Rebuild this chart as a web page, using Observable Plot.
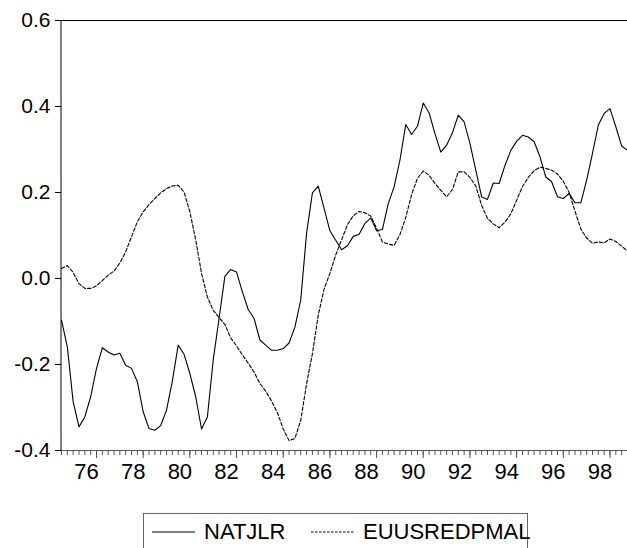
<!DOCTYPE html>
<html><head><meta charset="utf-8">
<script src="https://cdn.jsdelivr.net/npm/d3@7"></script>
<script src="https://cdn.jsdelivr.net/npm/@observablehq/plot@0.6"></script>
<style>
html,body{margin:0;padding:0;background:#fff;overflow:hidden;font-family:"Liberation Sans",Arial,sans-serif;}
#chart{position:absolute;left:0;top:0;}
#legend{position:absolute;left:143px;top:513px;width:385px;height:50px;border:1px solid #666;box-sizing:border-box;font-size:22px;color:#000;}
#legend .item{position:absolute;top:5px;display:flex;align-items:center;white-space:nowrap;}
#legend svg{margin-right:9px;}
</style></head><body>
<div id="chart"></div>
<div id="legend"></div>
<script>
// Quarterly observations starting 1974Q3
const startYear = 1974;
const startQuarter = 3;
const seriesNames = ["NATJLR", "EUUSREDPMAL"];
const natjlr = [
 -0.097,-0.159,-0.287,-0.345,-0.322,-0.275,-0.209,-0.161,-0.171,-0.178,
 -0.174,-0.202,-0.209,-0.240,-0.310,-0.349,-0.353,-0.342,-0.306,-0.238,
 -0.155,-0.176,-0.221,-0.275,-0.350,-0.322,-0.190,-0.093,0.005,0.021,
 0.015,-0.031,-0.072,-0.093,-0.143,-0.155,-0.167,-0.167,-0.163,-0.150,
 -0.113,-0.050,0.105,0.199,0.215,0.163,0.111,0.089,0.067,0.076,
 0.098,0.103,0.128,0.141,0.111,0.114,0.174,0.213,0.275,0.358,
 0.335,0.354,0.408,0.385,0.337,0.294,0.310,0.339,0.380,0.364,
 0.314,0.252,0.190,0.184,0.222,0.221,0.263,0.298,0.319,0.333,
 0.329,0.318,0.283,0.236,0.225,0.190,0.186,0.198,0.176,0.176,
 0.229,0.291,0.357,0.384,0.395,0.353,0.308,0.298
];
const euusredpmal = [
 0.023,0.030,0.014,-0.012,-0.023,-0.023,-0.017,-0.005,0.008,0.017,
 0.036,0.062,0.097,0.132,0.155,0.172,0.186,0.199,0.209,0.215,
 0.217,0.201,0.155,0.090,0.012,-0.043,-0.074,-0.091,-0.107,-0.138,
 -0.157,-0.178,-0.197,-0.218,-0.244,-0.262,-0.285,-0.312,-0.350,-0.377,
 -0.372,-0.330,-0.245,-0.175,-0.085,-0.025,0.012,0.055,0.090,0.125,
 0.146,0.156,0.153,0.145,0.117,0.085,0.080,0.077,0.102,0.142,
 0.195,0.233,0.250,0.240,0.221,0.205,0.190,0.207,0.248,0.248,
 0.235,0.215,0.170,0.140,0.127,0.118,0.131,0.150,0.182,0.214,
 0.235,0.251,0.259,0.256,0.252,0.243,0.226,0.200,0.157,0.115,
 0.094,0.082,0.085,0.083,0.092,0.086,0.075,0.064
];
const yTicks = [-0.4, -0.2, 0.0, 0.2, 0.4, 0.6];
const yTickLabels = ["-0.4", "-0.2", "0.0", "0.2", "0.4", "0.6"];
const xTickYears = [1976, 1978, 1980, 1982, 1984, 1986, 1988, 1990, 1992, 1994, 1996, 1998];
const xTickLabels = ["76", "78", "80", "82", "84", "86", "88", "90", "92", "94", "96", "98"];

const t0 = startYear + (startQuarter - 1) / 4;
const rows = [];
natjlr.forEach((v, i) => rows.push({t: t0 + i / 4, v, s: seriesNames[0]}));
euusredpmal.forEach((v, i) => rows.push({t: t0 + i / 4, v, s: seriesNames[1]}));
const tEnd = t0 + (natjlr.length - 1) / 4;
const quarterTicks = natjlr.map((_, i) => t0 + i / 4);

const font = '"Liberation Sans", Arial, sans-serif';
const chart = Plot.plot({
  width: 627,
  height: 490,
  marginLeft: 61,
  marginRight: 0,
  marginTop: 20,
  marginBottom: 40,
  style: {fontFamily: font, background: "#fff", color: "#000", overflow: "visible"},
  x: {type: "linear", domain: [t0, tEnd], label: null},
  y: {domain: [-0.4, 0.6], label: null},
  marks: [
    Plot.axisX(quarterTicks, {tickSize: 5, tickFormat: () => "", stroke: "#555", label: null}),
    Plot.axisX(xTickYears, {tickSize: 8, tickFormat: () => "", stroke: "#555", label: null}),
    Plot.axisX(xTickYears, {tickSize: 0, tickPadding: 13, dx: -10, fontSize: 22, label: null,
      tickFormat: d => xTickLabels[xTickYears.indexOf(d)]}),
    Plot.axisY(yTicks, {tickSize: 6, tickPadding: 5, fontSize: 21, label: null,
      tickFormat: d => yTickLabels[yTicks.indexOf(d)]}),
    Plot.ruleY([-0.4], {stroke: "#555"}),
    Plot.ruleY([0.6], {stroke: "#000"}),
    Plot.ruleX([t0], {stroke: "#000", dx: -0.5}),
    Plot.line(rows.filter(d => d.s === seriesNames[0]), {x: "t", y: "v", stroke: "#000", strokeWidth: 1.1}),
    Plot.line(rows.filter(d => d.s === seriesNames[1]), {x: "t", y: "v", stroke: "#000", strokeWidth: 1.1, strokeDasharray: "3.5,2"})
  ]
});
document.getElementById("chart").appendChild(chart);

// legend
const lg = document.getElementById("legend");
const items = [
  {name: seriesNames[0], dash: null, left: 8},
  {name: seriesNames[1], dash: "2.5,1.5", left: 167}
];
items.forEach(it => {
  const div = document.createElement("div");
  div.className = "item";
  div.style.left = it.left + "px";
  div.innerHTML = `<svg width="43" height="10"><line x1="0" x2="43" y1="5" y2="5" stroke="#000" stroke-width="1" ${it.dash ? `stroke-dasharray="${it.dash}"` : ""}/></svg><span>${it.name}</span>`;
  lg.appendChild(div);
});
</script>
</body></html>
